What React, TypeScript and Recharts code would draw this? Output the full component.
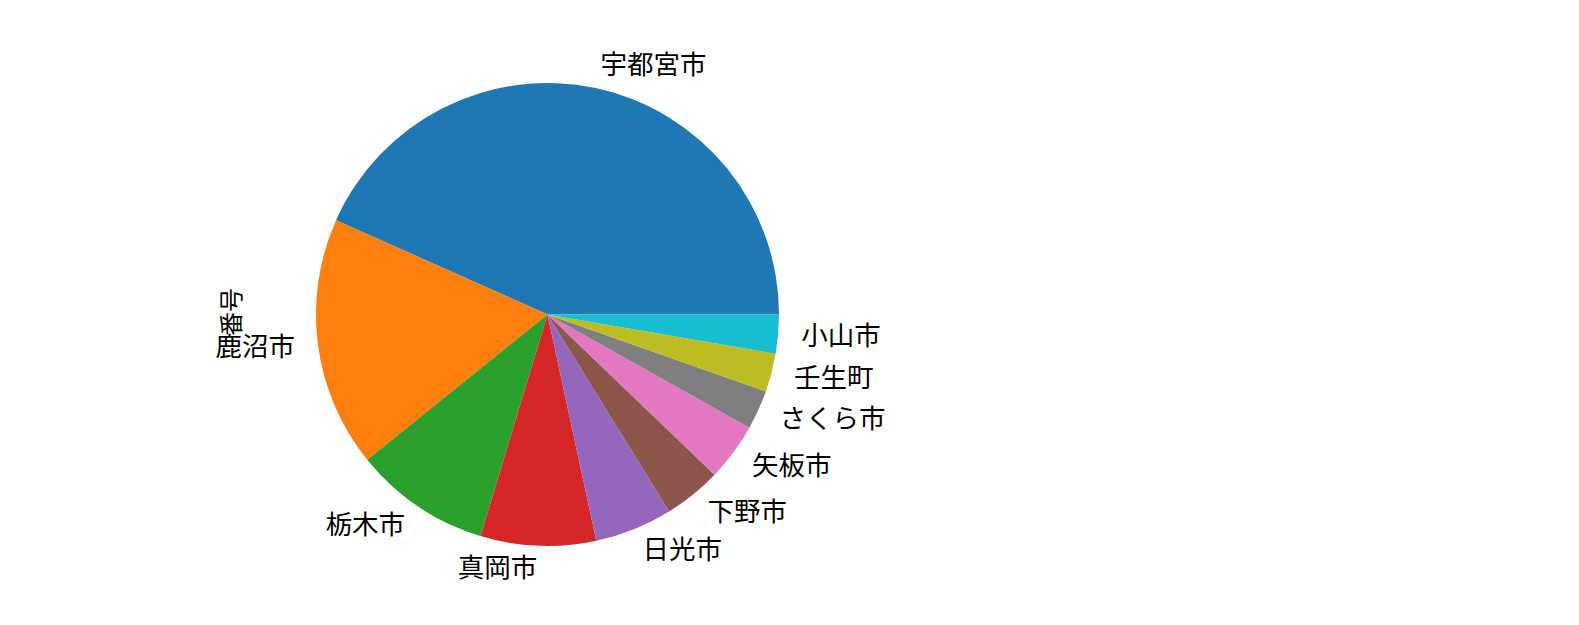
import React from 'react';
import { PieChart, Pie, Cell } from 'recharts';

const cities = ['宇都宮市', '鹿沼市', '栃木市', '真岡市', '日光市', '下野市', '矢板市', 'さくら市', '壬生町', '小山市'];
const counts = [43.33, 17.47, 9.53, 8.06, 5.42, 4.03, 4.03, 2.75, 2.67, 2.72];
const colors = ['#1f77b4', '#ff7f0e', '#2ca02c', '#d62728', '#9467bd', '#8c564b', '#e377c2', '#7f7f7f', '#bcbd22', '#17becf'];
const yLabel = '番号';

const data = cities.map((name, i) => ({ name, value: counts[i] }));

const FONT = '"Noto Sans CJK JP", "Noto Sans", sans-serif';
const FS = 26.5;
const RAD = Math.PI / 180;

const renderLabel = (props: any) => {
  const { cx, cy, midAngle, outerRadius, name } = props;
  const r = outerRadius * 1.1;
  const x = cx + r * Math.cos(-midAngle * RAD);
  const y = cy + r * Math.sin(-midAngle * RAD);
  const anchor = Math.cos(-midAngle * RAD) >= 0 ? 'start' : 'end';
  return (
    <text x={x} y={y + FS * 0.32} textAnchor={anchor} fontSize={FS} fontFamily={FONT} fill="#000">
      {name}
    </text>
  );
};

export default function App() {
  return (
    <div style={{ position: 'absolute', left: 0, top: 0, width: 1579, height: 625, background: '#fff' }}>
      <PieChart width={1579} height={625} margin={{ top: 0, right: 0, bottom: 0, left: 0 }}>
        <Pie
          data={data}
          dataKey="value"
          nameKey="name"
          cx={547.5}
          cy={314.5}
          outerRadius={231.5}
          innerRadius={0}
          startAngle={0}
          endAngle={360}
          paddingAngle={0}
          stroke="none"
          label={renderLabel}
          labelLine={false}
          isAnimationActive={false}
        >
          {data.map((d, i) => (
            <Cell key={d.name} fill={colors[i]} stroke="none" />
          ))}
        </Pie>
        <text
          x={232}
          y={312}
          transform="rotate(-90 232 312)"
          textAnchor="middle"
          dy={FS * 0.32}
          fontSize={FS * 0.9}
          fontFamily={FONT}
          fill="#000"
        >
          {yLabel}
        </text>
      </PieChart>
    </div>
  );
}
